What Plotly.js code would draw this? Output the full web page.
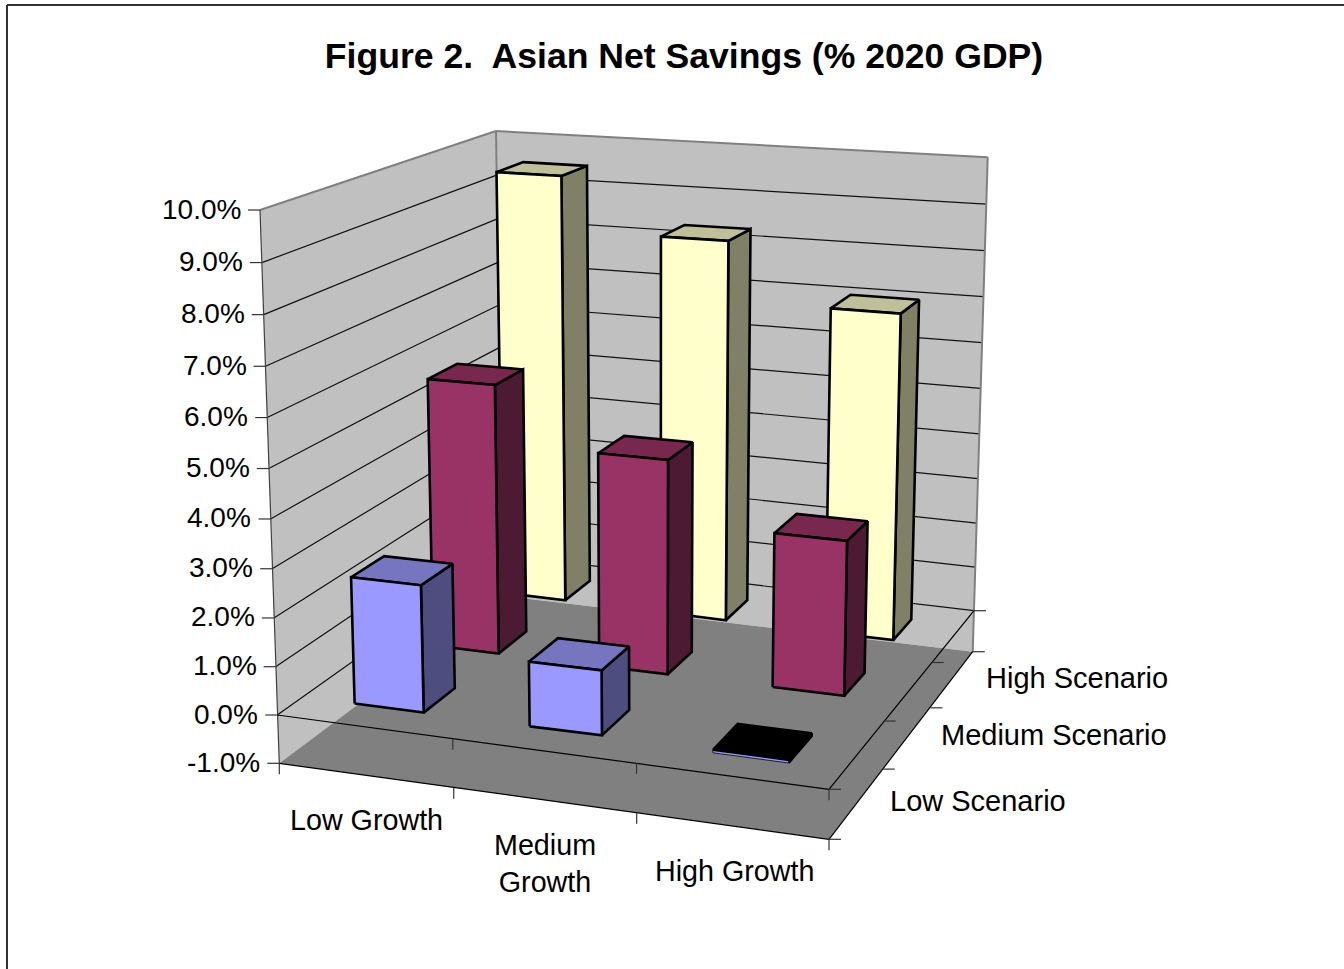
<!DOCTYPE html>
<html>
<head>
<meta charset="utf-8">
<script src="https://cdn.plot.ly/plotly-3.0.1.min.js"></script>
<style>html,body{margin:0;padding:0;background:#fff;overflow:hidden}#chart{width:1344px;height:969px}</style>
</head>
<body>
<div id="chart"></div>
<script>
// Chart values, in percent of 2020 GDP
const categories = ['Low Growth', 'Medium<br>Growth', 'High Growth'];
const scenarios = ['Low Scenario', 'Medium Scenario', 'High Scenario'];
const lowScenario = [2.62, 1.32, -0.06];
const mediumScenario = [5.77, 4.54, 3.24];
const highScenario = [9.52, 8.35, 7.07];
const valueTicks = [-1, 0, 1, 2, 3, 4, 5, 6, 7, 8, 9, 10];

// Face colours per scenario: front, top, side
const faceColors = [
  ['#9999FF', '#7575C0', '#4D4D80'],
  ['#993366', '#78284F', '#4D1A33'],
  ['#FFFFCC', '#BFBF99', '#808066']
];
const wallColor = '#C0C0C0';
const floorColor = '#808080';
const edgeColor = '#808080';

// Anchors of the 3-D box: [across, depth, value, screenX, screenY]
const boxAnchors = [
  [0, 0, -1, 279.3, 763.3], [1, 0, -1, 829, 839.3], [1, 1, -1, 972.7, 651.7], [0, 1, -1, 503, 596],
  [0, 0, 0, 277.3, 715], [1, 0, 0, 829, 789.3], [1, 1, 0, 974, 610.7],
  [0, 0, 10, 260, 210], [0, 1, 10, 496, 131], [1, 1, 10, 987.7, 157.3]
];

// Least-squares fit of a perspective camera to the anchors
function solve(A, b) {
  const n = b.length, M = A.map((r, i) => r.concat(b[i]));
  for (let c = 0; c < n; c++) {
    let p = c;
    for (let r = c + 1; r < n; r++) if (Math.abs(M[r][c]) > Math.abs(M[p][c])) p = r;
    [M[c], M[p]] = [M[p], M[c]];
    for (let r = 0; r < n; r++) {
      if (r === c) continue;
      const f = M[r][c] / M[c][c];
      for (let k = c; k <= n; k++) M[r][k] -= f * M[c][k];
    }
  }
  return M.map((r, i) => r[n] / r[i]);
}
function fitCamera(anchors) {
  const rows = [], rhs = [];
  anchors.forEach(([u, v, w, x, y]) => {
    const z = (w + 1) / 11;
    rows.push([u, v, z, 1, 0, 0, 0, 0, -x * u, -x * v, -x * z]); rhs.push(x);
    rows.push([0, 0, 0, 0, u, v, z, 1, -y * u, -y * v, -y * z]); rhs.push(y);
  });
  const N = 11, A = [], b = [];
  for (let i = 0; i < N; i++) {
    A.push([]);
    for (let j = 0; j < N; j++) A[i].push(rows.reduce((s, r) => s + r[i] * r[j], 0));
    b.push(rows.reduce((s, r, k) => s + r[i] * rhs[k], 0));
  }
  return solve(A, b);
}
const cam = fitCamera(boxAnchors);
function pinhole(u, v, value) {
  const z = (value + 1) / 11;
  const d = cam[8] * u + cam[9] * v + cam[10] * z + 1;
  return [(cam[0] * u + cam[1] * v + cam[2] * z + cam[3]) / d,
          (cam[4] * u + cam[5] * v + cam[6] * z + cam[7]) / d];
}
// What the camera leaves over at each anchor is spread by inverse-distance weights
const leftovers = boxAnchors.map(([u, v, w, x, y]) => {
  const p = pinhole(u, v, w);
  return [u, v, (w + 1) / 11, x - p[0], y - p[1]];
});
function project(u, v, value) {
  const p = pinhole(u, v, value), z = (value + 1) / 11;
  let sum = 0, dx = 0, dy = 0;
  for (const [a, b, c, rx, ry] of leftovers) {
    const d2 = (u - a) ** 2 + (v - b) ** 2 + (z - c) ** 2;
    if (d2 < 1e-9) return [p[0] + rx, p[1] + ry];
    const weight = 1 / (d2 * d2);
    sum += weight; dx += weight * rx; dy += weight * ry;
  }
  return [p[0] + dx / sum, p[1] + dy / sum];
}

const traces = [];
function polygon(points, fill, lineColor, lineWidth) {
  const closed = points.concat([points[0]]);
  traces.push({
    type: 'scatter', mode: lineWidth ? 'lines' : 'none', fill: 'toself', fillcolor: fill,
    x: closed.map(p => p[0]), y: closed.map(p => p[1]),
    line: { color: lineColor || fill, width: lineWidth || 0, simplify: false },
    hoverinfo: 'skip', showlegend: false
  });
}
function segments(list, color, width) {
  const x = [], y = [];
  list.forEach(([a, b]) => { x.push(a[0], b[0], null); y.push(a[1], b[1], null); });
  traces.push({
    type: 'scatter', mode: 'lines', x, y,
    line: { color, width, simplify: false }, hoverinfo: 'skip', showlegend: false
  });
}

const lo = valueTicks[0], hi = valueTicks[valueTicks.length - 1];

// Walls and floor
polygon([project(0, 0, lo), project(0, 1, lo), project(0, 1, hi), project(0, 0, hi)], wallColor);
polygon([project(0, 1, lo), project(1, 1, lo), project(1, 1, hi), project(0, 1, hi)], wallColor);
polygon([project(0, 0, lo), project(1, 0, lo), project(1, 1, lo), project(0, 1, lo)], floorColor);

// Gridlines run along both walls at every tick inside the range
const grid = [];
valueTicks.filter(t => t > lo && t < hi).forEach(t => {
  grid.push([project(0, 0, t), project(0, 1, t)]);
  grid.push([project(0, 1, t), project(1, 1, t)]);
});
segments(grid, '#111111', 1.2);

// Wall outline
segments([
  [project(0, 0, hi), project(0, 1, hi)],
  [project(0, 1, hi), project(1, 1, hi)],
  [project(0, 1, hi), project(0, 1, lo)],
  [project(1, 1, hi), project(1, 1, lo)]
], edgeColor, 2);
segments([[project(0, 0, hi), project(0, 0, lo)]], '#404040', 1.2);

// Axis lines at the zero plane and at the floor edge, with tick marks
const axisLines = [
  [project(0, 0, 0), project(1, 0, 0)], [project(1, 0, 0), project(1, 1, 0)],
  [project(0, 0, lo), project(1, 0, lo)], [project(1, 0, lo), project(1, 1, lo)]
];
segments(axisLines, '#000000', 1.2);

const tickMarks = [];
valueTicks.forEach(t => {
  const p = project(0, 0, t);
  tickMarks.push([[p[0] - 12, p[1]], p]);
});
for (let i = 0; i <= categories.length; i++) {
  [0, lo].forEach(level => {
    if (i === 0 && level === 0) return;
    const p = project(i / categories.length, 0, level);
    tickMarks.push([p, [p[0], p[1] + 11]]);
  });
}
for (let j = 0; j <= scenarios.length; j++) {
  [0, lo].forEach(level => {
    const p = project(1, j / scenarios.length, level);
    tickMarks.push([p, [p[0] + 12, p[1]]]);
  });
}
segments(tickMarks, '#333333', 1.2);

// Bars, rear row first. Each occupies the centre 40% of its cell.
const seriesByRow = [lowScenario, mediumScenario, highScenario];
const barShare = 0.4;
for (let j = scenarios.length - 1; j >= 0; j--) {
  seriesByRow[j].forEach((val, i) => {
    const pad = (1 - barShare) / 2;
    const u0 = (i + pad) / categories.length, u1 = (i + 1 - pad) / categories.length;
    const v0 = (j + pad) / scenarios.length, v1 = (j + 1 - pad) / scenarios.length;
    const base = Math.min(0, val), cap = Math.max(0, val);
    const [front, top, side] = faceColors[j];
    const below = val < 0;
    const frontFace = [project(u0, v0, base), project(u1, v0, base), project(u1, v0, cap), project(u0, v0, cap)];
    const topFace = [project(u0, v0, cap), project(u1, v0, cap), project(u1, v1, cap), project(u0, v1, cap)];
    polygon([project(u1, v0, base), project(u1, v1, base), project(u1, v1, cap), project(u1, v0, cap)], side, '#000', 2.6);
    if (below) {
      // A bar just under zero shows a sliver of front face below a black cap
      polygon(frontFace, front, '#000', 0.8);
      polygon(topFace, '#000000', '#000', 2.2);
    } else {
      polygon(topFace, top, '#000', 2.6);
      polygon(frontFace, front, '#000', 2.6);
    }
  });
}

// Text
const fontFamily = 'Liberation Sans, Arial, sans-serif';
const annotations = [];
function label(text, x, y, xanchor, size) {
  annotations.push({
    text, x, y, xref: 'x', yref: 'y', xanchor, yanchor: 'middle', showarrow: false,
    font: { family: fontFamily, size, color: '#000' }
  });
}
valueTicks.forEach(t => {
  const p = project(0, 0, t);
  label(t.toFixed(1) + '%', p[0] - 17, p[1] - 1, 'right', 28);
});
const categoryLabelPos = [[366, 820], [545, 863], [734, 871]];
categories.forEach((c, i) => label(c, categoryLabelPos[i][0], categoryLabelPos[i][1], 'center', 28.7));
const scenarioLabelPos = [[888, 801], [939, 735], [984, 678]];
scenarios.forEach((s, j) => label(s, scenarioLabelPos[j][0], scenarioLabelPos[j][1], 'left', 29));

const layout = {
  width: 1344, height: 969,
  margin: { l: 0, r: 0, t: 0, b: 0 },
  paper_bgcolor: '#fff', plot_bgcolor: '#fff',
  showlegend: false,
  title: {
    text: 'Figure 2.\u00a0 Asian Net Savings (% 2020 GDP)',
    x: 684 / 1344, xanchor: 'center', xref: 'paper',
    y: 1 - 56 / 969, yanchor: 'middle', yref: 'paper',
    font: { family: fontFamily, size: 35.6, color: '#000', weight: 'bold' }
  },
  xaxis: { range: [0, 1344], visible: false, fixedrange: true },
  yaxis: { range: [969, 0], visible: false, fixedrange: true },
  annotations,
  shapes: [
    { type: 'line', xref: 'paper', yref: 'paper', x0: 7 / 1344, x1: 7 / 1344, y0: 0, y1: 1 - 5 / 969, line: { color: '#333', width: 2 } },
    { type: 'line', xref: 'paper', yref: 'paper', x0: 7 / 1344, x1: 1, y0: 1 - 5 / 969, y1: 1 - 5 / 969, line: { color: '#333', width: 2 } }
  ]
};
Plotly.newPlot('chart', traces, layout, { displayModeBar: false, staticPlot: true });
</script>
</body>
</html>
